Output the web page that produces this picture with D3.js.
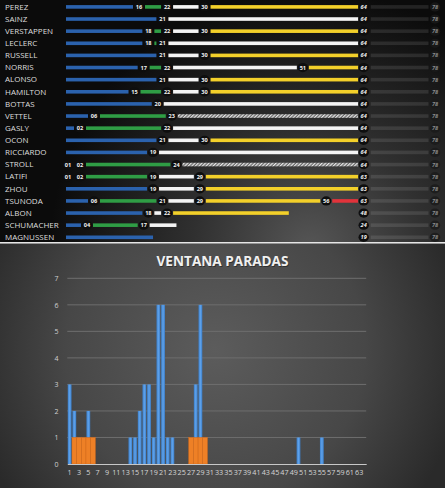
<!DOCTYPE html>
<html><head><meta charset="utf-8">
<script src="https://cdn.jsdelivr.net/npm/d3@7"></script>
<style>html,body{margin:0;padding:0;background:#1a1a1a;}svg{display:block;}</style>
</head><body>
<svg id="c" width="445" height="488"></svg>
<script>
// ---------- Top: stint table ----------
const drivers = ["PEREZ","SAINZ","VERSTAPPEN","LECLERC","RUSSELL","NORRIS","ALONSO","HAMILTON","BOTTAS","VETTEL","GASLY","OCON","RICCIARDO","STROLL","LATIFI","ZHOU","TSUNODA","ALBON","SCHUMACHER","MAGNUSSEN"];
const stops = [[16,22,30],[21],[18,22,30],[18,21],[21,30],[17,22,51],[21,30],[15,22,30],[20],[6,23],[2,22],[21,30],[19],[1,2,24],[1,2,19,29],[19,29],[6,21,29,56],[18,22],[4,17],[]];
const compounds = [["B","G","W","Y"],["B","W"],["B","G","W","Y"],["B","G","W"],["B","W","Y"],["B","G","W","Y"],["B","W","Y"],["B","G","W","Y"],["B","W"],["B","G","H"],["B","G","W"],["B","W","Y"],["B","W"],["B","B","G","H"],["B","B","G","W","Y"],["B","W","Y"],["B","G","W","Y","R"],["B","W","Y"],["B","G","W"],["B"]];
const finishLap = [64,64,64,64,64,64,64,64,64,64,64,64,64,64,63,63,63,48,24,19];
const retired = [false,false,false,false,false,false,false,false,false,false,false,false,false,false,false,false,false,true,true,true];
const raceLaps = 64, totalLaps = 78;

// ---------- Bottom: stops per lap ----------
const laps = [1,2,3,4,5,6,7,8,9,10,11,12,13,14,15,16,17,18,19,20,21,22,23,24,25,26,27,28,29,30,31,32,33,34,35,36,37,38,39,40,41,42,43,44,45,46,47,48,49,50,51,52,53,54,55,56,57,58,59,60,61,62,63,64];
const blueStops = [3,2,1,0,2,0,0,0,0,0, 0,0,0,1,1,2,3,3,1,6, 6,1,1,0,0,0,0,3,6,0, 0,0,0,0,0,0,0,0,0,0, 0,0,0,0,0,0,0,0,0,1, 0,0,0,0,1,0,0,0,0,0, 0,0,0,0];
const orangeStops = [0,1,1,1,1,1,0,0,0,0, 0,0,0,0,0,0,0,0,0,0, 0,0,0,0,0,0,1,1,1,1, 0,0,0,0,0,0,0,0,0,0, 0,0,0,0,0,0,0,0,0,0, 0,0,0,0,0,0,0,0,0,0, 0,0,0,0];
const yTicks = [0,1,2,3,4,5,6,7];
const xTickLabels = laps.filter(d => d % 2 === 1);
const title = "VENTANA PARADAS";

const svg = d3.select("#c");
const defs = svg.append("defs");

const g1 = defs.append("radialGradient").attr("id","bgTop").attr("gradientUnits","userSpaceOnUse")
  .attr("cx",310).attr("cy",250).attr("r",260);
g1.append("stop").attr("offset","0").attr("stop-color","#565656");
g1.append("stop").attr("offset","0.45").attr("stop-color","#303030");
g1.append("stop").attr("offset","1").attr("stop-color","#0b0b0b");
const g2 = defs.append("radialGradient").attr("id","bgBot").attr("gradientUnits","userSpaceOnUse")
  .attr("cx",215).attr("cy",350).attr("r",250);
g2.append("stop").attr("offset","0").attr("stop-color","#5c5c5c");
g2.append("stop").attr("offset","0.6").attr("stop-color","#474747");
g2.append("stop").attr("offset","1").attr("stop-color","#2a2a2a");
const hatch = defs.append("pattern").attr("id","hatch").attr("patternUnits","userSpaceOnUse")
  .attr("width",2.5).attr("height",2.5).attr("patternTransform","rotate(45)");
hatch.append("rect").attr("width",2.5).attr("height",2.5).attr("fill","#6a6a6a");
hatch.append("rect").attr("width",1.2).attr("height",2.5).attr("fill","#e8e8e8");
const blueGrad = defs.append("linearGradient").attr("id","blueBar").attr("x1","0").attr("x2","1");
blueGrad.append("stop").attr("offset","0").attr("stop-color","#3b7fcb");
blueGrad.append("stop").attr("offset","0.5").attr("stop-color","#5fa2ea");
blueGrad.append("stop").attr("offset","1").attr("stop-color","#3b7fcb");

svg.append("rect").attr("x",0).attr("y",0).attr("width",445).attr("height",243).attr("fill","url(#bgTop)");
svg.append("rect").attr("x",0).attr("y",244).attr("width",445).attr("height",244).attr("fill","url(#bgBot)");
svg.append("rect").attr("x",0).attr("y",242).attr("width",445).attr("height",1.6).attr("fill","#e6e6e6");

// ---------- Top drawing ----------
const colors = {B:"#2b62ad", G:"#2f9d45", W:"#f4f4f4", Y:"#f3d02a", R:"#e2333b", H:"url(#hatch)"};
const xs = d3.scaleLinear().domain([0,1,2,4,6,16,64,78]).range([66,68,80,87,94,139,363.7,435]);
const ys = d3.scalePoint().domain(drivers).range([6.9,237.3]);
const gap = 6, barH = 3.6, r = 4.6;
const gTop = svg.append("g");

drivers.forEach((name, i) => {
  const y = ys(name);
  gTop.append("text").attr("x",5).attr("y",y).attr("dy","0.35em")
    .attr("font-family","Open Sans").attr("font-size",8).attr("fill","#dedede").text(name);
  const bounds = [0, ...stops[i], finishLap[i]];
  const n = compounds[i].length;
  for (let k = 0; k < n; k++) {
    const s = bounds[k], e = bounds[k+1];
    const x1 = k === 0 ? xs(s) : xs(s) + gap;
    const last = k === n - 1;
    const x2 = last ? (retired[i] ? xs(e) : xs(raceLaps) - gap + 0.5) : xs(e) - gap;
    if (x2 > x1) gTop.append("rect").attr("x",x1).attr("y",y-barH/2).attr("width",x2-x1).attr("height",barH)
      .attr("fill",colors[compounds[i][k]]);
  }
  gTop.append("rect").attr("x",xs(raceLaps)+7).attr("y",y-barH/2).attr("width",xs(totalLaps)-6.5-(xs(raceLaps)+7)).attr("height",barH)
    .attr("fill","rgba(255,255,255,0.10)");
  stops[i].forEach(l => {
    const lx = xs(l);
    gTop.append("ellipse").attr("cx",lx).attr("cy",y).attr("rx",r+0.6).attr("ry",r).attr("fill","#0e0e0e");
    gTop.append("text").attr("x",lx).attr("y",y).attr("dy","0.36em").attr("text-anchor","middle")
      .attr("font-family","Open Sans").attr("font-weight","bold").attr("font-size",5.6).attr("fill","#f2f2f2")
      .text(String(l).padStart(2,"0"));
  });
  const fx = xs(raceLaps);
  gTop.append("ellipse").attr("cx",fx).attr("cy",y).attr("rx",r+0.6).attr("ry",r).attr("fill","#0e0e0e");
  gTop.append("text").attr("x",fx).attr("y",y).attr("dy","0.36em").attr("text-anchor","middle")
    .attr("font-family","Open Sans").attr("font-weight","bold").attr("font-style","italic").attr("font-size",5.6).attr("fill","#f2f2f2")
    .text(finishLap[i]);
  const tx = xs(totalLaps);
  gTop.append("ellipse").attr("cx",tx).attr("cy",y).attr("rx",r+0.6).attr("ry",r).attr("fill","#1a1a1a").attr("opacity",0.8);
  gTop.append("text").attr("x",tx).attr("y",y).attr("dy","0.36em").attr("text-anchor","middle")
    .attr("font-family","Open Sans").attr("font-weight","bold").attr("font-style","italic").attr("font-size",5.6).attr("fill","#8a8a8a")
    .text(totalLaps);
});

// ---------- Bottom drawing ----------
const bx = d3.scaleBand().domain(laps).range([67.3,366.2]).padding(0);
const by = d3.scaleLinear().domain([0,7]).range([464,278.3]);
const gBot = svg.append("g");

gBot.append("text").attr("x",222.5).attr("y",261).attr("dy","0.36em").attr("text-anchor","middle")
  .attr("font-family","Open Sans").attr("font-weight","bold").attr("font-size",13.6).attr("fill","#1c1c1c").attr("opacity",0.6)
  .attr("transform","translate(0.8,0.8)").text(title);
gBot.append("text").attr("x",222.5).attr("y",261).attr("dy","0.36em").attr("text-anchor","middle")
  .attr("font-family","Open Sans").attr("font-weight","bold").attr("font-size",13.6).attr("fill","#f0f0f0").text(title);

gBot.selectAll(".grid").data(yTicks.filter(d => d > 0)).enter().append("line")
  .attr("x1",67.3).attr("x2",366.2).attr("y1",d => by(d)).attr("y2",d => by(d))
  .attr("stroke","#6e6e6e").attr("stroke-width",1);

const yAxis = d3.axisLeft(by).tickValues(yTicks).tickFormat(d3.format("d")).tickSize(0).tickPadding(0);
const yg = gBot.append("g").attr("transform","translate(58.5,0)").call(yAxis);
yg.select(".domain").remove();
yg.selectAll("text").attr("font-family","Open Sans").attr("font-size",7).attr("fill","#d0d0d0").attr("text-anchor","end");

gBot.selectAll(".bb").data(laps.map((l,i) => ({l, v: blueStops[i]})).filter(d => d.v > 0)).enter().append("rect")
  .attr("x",d => bx(d.l)+0.45).attr("width",bx.bandwidth()-0.9)
  .attr("y",d => by(d.v)).attr("height",d => by(0)-by(d.v)).attr("fill","url(#blueBar)");
gBot.selectAll(".ob").data(laps.map((l,i) => ({l, v: orangeStops[i]})).filter(d => d.v > 0)).enter().append("rect")
  .attr("x",d => bx(d.l)).attr("width",bx.bandwidth())
  .attr("y",d => by(d.v)).attr("height",d => by(0)-by(d.v)).attr("fill","#ee8026")
  .attr("stroke","#d36a1a").attr("stroke-width",0.5);

const xAxis = d3.axisBottom(bx).tickValues(xTickLabels).tickSize(0).tickPadding(6);
const xg = gBot.append("g").attr("transform",`translate(0,${by(0)})`).call(xAxis);
xg.select(".domain").attr("stroke","#c8c8c8").attr("stroke-width",1);
xg.selectAll("text").attr("font-family","Open Sans").attr("font-size",7.2).attr("fill","#d6d6d6");
</script>
</body></html>
